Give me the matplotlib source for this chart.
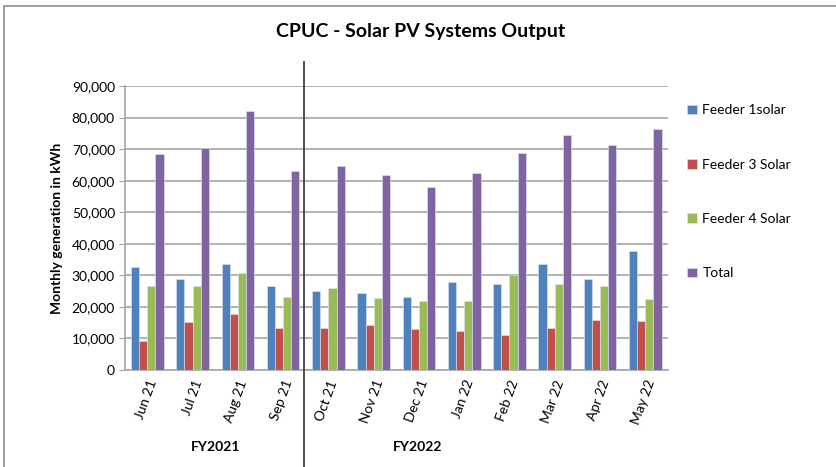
import matplotlib
matplotlib.use("Agg")
import matplotlib.pyplot as plt
import matplotlib.transforms as mtransforms
from matplotlib.patches import Rectangle
import numpy as np

plt.rcParams["font.family"] = ["Lato", "DejaVu Sans"]

months = ["Jun 21", "Jul 21", "Aug 21", "Sep 21", "Oct 21", "Nov 21",
          "Dec 21", "Jan 22", "Feb 22", "Mar 22", "Apr 22", "May 22"]
feeder1 = [32600, 28700, 33450, 26500, 25000, 24300,
           23000, 28000, 27400, 33550, 28900, 37800]
feeder3 = [9200, 15100, 17800, 13200, 13400, 14200,
           12900, 12300, 11100, 13200, 15800, 15600]
feeder4 = [26600, 26600, 30700, 23200, 26000, 22700,
           22000, 22000, 30100, 27400, 26500, 22500]
total = [68400, 70500, 82100, 63000, 64500, 61700,
         58100, 62500, 68700, 74400, 71300, 76300]
series_names = ["Feeder 1solar", "Feeder 3 Solar", "Feeder 4 Solar", "Total"]
colors = ["#4F81BD", "#C0504D", "#9BBB59", "#8064A2"]
fy_labels = ["FY2021", "FY2022"]

fig = plt.figure(figsize=(8.37, 4.67), dpi=100)
ax = fig.add_axes([0.149, 0.2077, 0.649, 0.6081])

x = np.arange(len(months))
w = 0.18
for i, (vals, name, c) in enumerate(zip([feeder1, feeder3, feeder4, total],
                                        series_names, colors)):
    ax.bar(x + (i - 1.5) * w, vals, width=w, color=c, label=name,
           edgecolor="#dde6f2", linewidth=0.4, zorder=3)

ax.set_xlim(-0.5, len(months) - 0.5)
ax.set_ylim(0, 90000)
ax.set_yticks(np.arange(0, 90001, 10000))
ax.set_yticklabels([f"{v:,}" for v in range(0, 90001, 10000)], fontsize=10)
ax.yaxis.grid(True, color="#a6a6a6", linewidth=1.2, zorder=0)
ax.set_axisbelow(True)
ax.tick_params(axis="y", length=4, color="#a6a6a6", pad=3)
ax.tick_params(axis="x", length=0, pad=6)
ax.set_xticks(x)
ax.set_xticklabels(months, rotation=70, ha="right", rotation_mode="anchor",
                   fontsize=10)
for s in ["top", "right"]:
    ax.spines[s].set_visible(False)
for s in ["left", "bottom"]:
    ax.spines[s].set_color("#a6a6a6")
    ax.spines[s].set_linewidth(1.2)

ax.set_ylabel("Monthly generation in kWh", fontsize=10, fontweight="bold",
              labelpad=6)

# separator between fiscal years
trans = mtransforms.blended_transform_factory(ax.transData, fig.transFigure)
ax.plot([3.45, 3.45], [0, 1 - 62 / 467], transform=trans, color="#404040",
        linewidth=1.3, clip_on=False, zorder=5)

ax.text(1.5, 1 - 447 / 467, fy_labels[0], transform=trans, ha="center",
        va="center", fontsize=10, fontweight="bold")
ax.text(5.97, 1 - 447 / 467, fy_labels[1], transform=trans, ha="center",
        va="center", fontsize=10, fontweight="bold")

fig.text(421 / 837, 1 - 32 / 467, "CPUC - Solar PV Systems Output",
         ha="center", va="center", fontsize=14, fontweight="bold")

ax.legend(loc="upper left", bbox_to_anchor=(1.025, 0.955), frameon=False,
          fontsize=10, handlelength=0.7, handleheight=0.7, handletextpad=0.4,
          labelspacing=3.05, borderaxespad=0)

fig.patches.append(Rectangle((4 / 837, -0.1), 1.2, 1 - 5.5 / 467 + 0.1,
                             transform=fig.transFigure, fill=False,
                             edgecolor="#8c8c8c", linewidth=1.2))

fig.savefig("out.png", dpi=100)
